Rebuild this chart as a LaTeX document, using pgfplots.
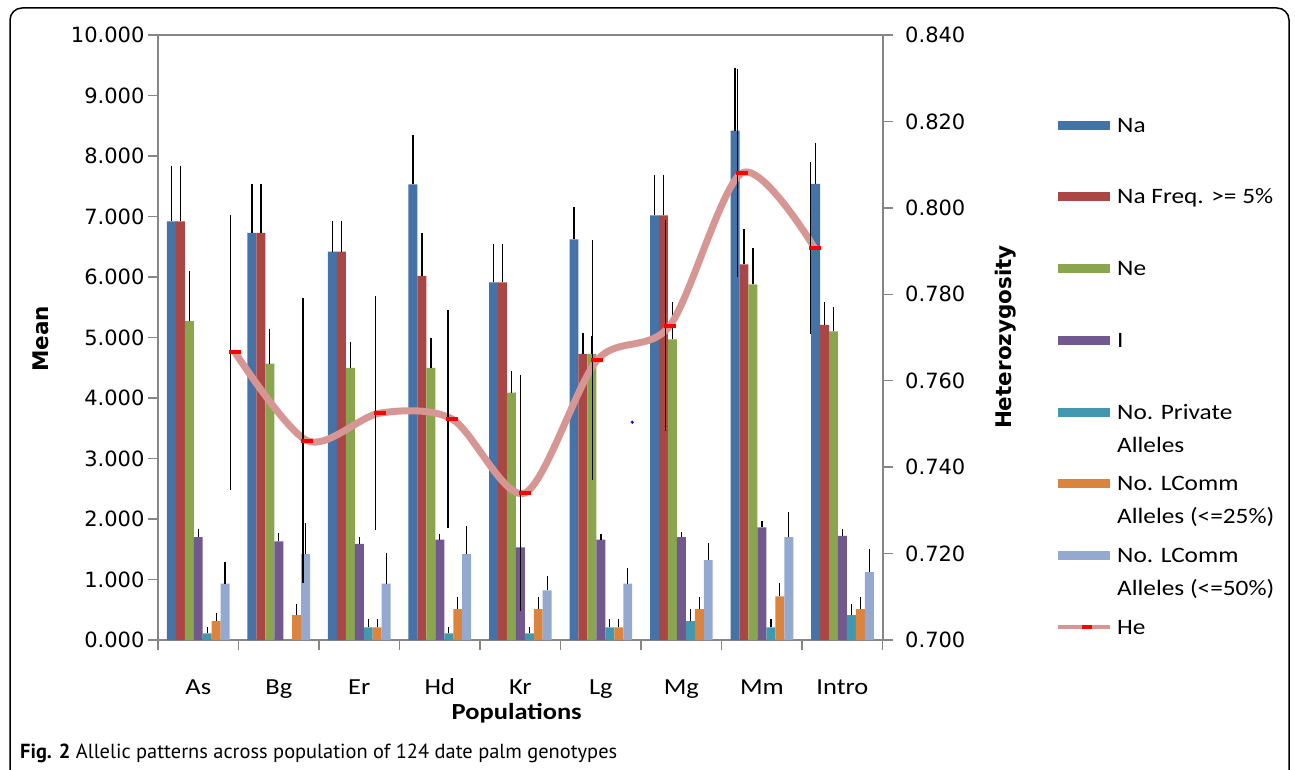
\documentclass[border=0pt]{standalone}
\usepackage{pgfplots}
\pgfplotsset{compat=1.18}
\usepackage{pgfplotstable}
\usepackage{fontspec}
\usepackage{graphicx}
\setmainfont{Carlito}
\newfontfamily\vfont{DejaVu Sans}
\newfontfamily\capfont{PT Sans}
\newcommand\sx[1]{\scalebox{1.15}[1]{#1}}
\definecolor{naC}{RGB}{69,114,167}
\definecolor{nafC}{RGB}{170,70,67}
\definecolor{neC}{RGB}{137,165,78}
\definecolor{iC}{RGB}{113,88,143}
\definecolor{prC}{RGB}{65,152,175}
\definecolor{lqC}{RGB}{219,132,61}
\definecolor{lhC}{RGB}{147,169,207}
\definecolor{heC}{RGB}{214,150,148}
\definecolor{axisC}{RGB}{134,134,134}

\pgfplotstableread{
x Na Nae Naf Nafe Ne Nee I Ie Pr Pre Lq Lqe Lh Lhe
0 6.92 0.92 6.92 0.92 5.27 0.83 1.70 0.13 0.11 0.10 0.31 0.14 0.93 0.36
1 6.73 0.80 6.73 0.80 4.57 0.57 1.63 0.14 0.00 0.00 0.41 0.18 1.42 0.51
2 6.42 0.51 6.42 0.51 4.50 0.43 1.59 0.11 0.21 0.13 0.21 0.13 0.93 0.50
3 7.53 0.82 6.02 0.70 4.50 0.50 1.66 0.10 0.11 0.10 0.51 0.20 1.42 0.47
4 5.91 0.63 5.91 0.63 4.09 0.35 1.53 0.10 0.11 0.10 0.51 0.20 0.82 0.24
5 6.62 0.53 4.73 0.34 4.73 0.30 1.66 0.10 0.21 0.13 0.21 0.13 0.93 0.26
6 7.02 0.67 7.02 0.67 4.97 0.62 1.70 0.09 0.31 0.20 0.51 0.20 1.32 0.28
7 8.42 1.04 6.21 0.58 5.88 0.60 1.86 0.10 0.21 0.13 0.72 0.23 1.70 0.41
8 7.54 0.67 5.21 0.37 5.10 0.41 1.72 0.11 0.41 0.18 0.51 0.20 1.12 0.38
}\bars

\pgfplotstableread{
x He Hee
0.4 0.7666 0.0318
1.3 0.7461 0.0330
2.2 0.7525 0.0270
3.1 0.7511 0.0252
4.0 0.7340 0.0274
4.9 0.7648 0.0278
5.8 0.7727 0.0244
6.7 0.8081 0.0240
7.6 0.7907 0.0200
}\he

\pgfplotsset{
  barerr/.style={error bars/y dir=plus, error bars/y explicit, error bars/error mark=none,
    error bars/error bar style={draw=black, line width=1.3pt}},
  mybar/.style={ybar, bar width=0.1112, bar shift=0pt, fill=#1, draw=none,
    legend image code/.code={\fill[#1] (0pt,2.5pt) rectangle (52pt,11.5pt);}, barerr},
}

\begin{document}
\begin{tikzpicture}
\useasboundingbox (0pt,0pt) rectangle (1295pt,769pt);
\clip (0pt,0pt) rectangle (1295pt,769pt);
\draw[black, line width=1.5pt, rounded corners=12pt] (10pt,-40pt) rectangle (1289pt,761pt);
\node[anchor=base west, inner sep=0pt, font=\capfont\fontsize{20.4}{24}\selectfont] at (20pt,11pt)
  {\textbf{Fig. 2} Allelic patterns across population of 124 date palm genotypes};

\begin{axis}[
  at={(158pt,129pt)}, anchor=south west, scale only axis,
  width=724.7pt, height=605pt,
  xmin=-0.5, xmax=8.5, ymin=0, ymax=10,
  axis line style={draw=axisC, line width=2pt},
  tick style={draw=axisC, line width=1.5pt},
  tick align=outside, major tick length=10pt,
  xtick pos=left, ytick pos=left,
  ytick={0,1,2,3,4,5,6,7,8,9,10},
  yticklabels={0.000,1.000,2.000,3.000,4.000,5.000,6.000,7.000,8.000,9.000,10.000},
  yticklabel style={font=\vfont\fontsize{21}{25}\selectfont},
  xtick={-0.5,0.5,1.5,2.5,3.5,4.5,5.5,6.5,7.5,8.5},
  xticklabels={},
  extra x ticks={0,1,2,3,4,5,6,7,8},
  extra x tick labels={\sx{As},\sx{Bg},\sx{Er},\sx{Hd},\sx{Kr},\sx{Lg},\sx{Mg},\sx{Mm},\sx{Intro}},
  extra x tick style={major tick length=0pt},
  xticklabel style={font=\fontsize{23}{26}\selectfont, anchor=base, yshift=-54pt},
  xlabel={\sx{Populations}},
  xlabel style={at={(axis description cs:0.495,-0.1207)}, anchor=center, font=\bfseries\fontsize{23}{26}\selectfont},
  ylabel={Mean},
  ylabel style={at={(axis description cs:-0.1614,0.4975)}, anchor=center, font=\vfont\bfseries\fontsize{21.5}{24}\selectfont},
  legend style={at={(1,1)}, anchor=north west, xshift=173.3pt, yshift=-82pt,
    draw=none, fill=none, inner sep=0pt, row sep=0pt, column sep=5pt,
    cells={anchor=base west},
    nodes={inner sep=0pt, text height=15pt, text depth=56.7pt, font=\fontsize{22}{33}\selectfont}},
]
\addplot[mybar=naC] table[x expr=\thisrow{x}-0.3336, y=Na, y error=Nae] {\bars};
\addlegendentry{\sx{Na}}
\addplot[mybar=nafC] table[x expr=\thisrow{x}-0.2224, y=Naf, y error=Nafe] {\bars};
\addlegendentry{\sx{Na Freq. >= 5\%}}
\addplot[mybar=neC] table[x expr=\thisrow{x}-0.1112, y=Ne, y error=Nee] {\bars};
\addlegendentry{\sx{Ne}}
\addplot[mybar=iC] table[x expr=\thisrow{x}, y=I, y error=Ie] {\bars};
\addlegendentry{\sx{I}}
\addplot[mybar=prC] table[x expr=\thisrow{x}+0.1112, y=Pr, y error=Pre] {\bars};
\addlegendentry{\sx{\parbox[t]{150pt}{\raggedright No. Private\\Alleles}}}
\addplot[mybar=lqC] table[x expr=\thisrow{x}+0.2224, y=Lq, y error=Lqe] {\bars};
\addlegendentry{\sx{\parbox[t]{150pt}{\raggedright No. LComm\\Alleles (<=25\%)}}}
\addplot[mybar=lhC] table[x expr=\thisrow{x}+0.3336, y=Lh, y error=Lhe] {\bars};
\addlegendentry{\sx{\parbox[t]{150pt}{\raggedright No. LComm\\Alleles (<=50\%)}}}
\addlegendimage{legend image code/.code={
  \draw[heC, line width=4pt] (0pt,7pt) -- (52pt,7pt);
  \fill[red] (24pt,5.5pt) rectangle (33pt,8.5pt);}}
\addlegendentry{\sx{He}}
\addplot[only marks, mark=*, mark size=1.3pt, blue, forget plot] coordinates {(5.39,3.60)};
\end{axis}

\begin{axis}[
  at={(158pt,129pt)}, anchor=south west, scale only axis,
  width=724.7pt, height=605pt,
  xmin=-0.5, xmax=8.5, ymin=0.7, ymax=0.84,
  axis x line=none, axis y line*=right,
  y axis line style={draw=none},
  tick style={draw=axisC, line width=1.5pt},
  tick align=outside, major tick length=10pt,
  ytick={0.70,0.72,0.74,0.76,0.78,0.80,0.82,0.84},
  yticklabels={0.700,0.720,0.740,0.760,0.780,0.800,0.820,0.840},
  yticklabel style={font=\vfont\fontsize{21}{25}\selectfont, xshift=9pt},
  ylabel={Heterozygosity},
  ylabel style={at={(axis description cs:1.1701,0.5008)}, anchor=center, font=\vfont\bfseries\fontsize{21.5}{24}\selectfont},
]
\addplot[heC, line width=7pt, smooth, tension=0.5, mark=-, mark size=6pt,
  mark options={red, line width=3.5pt, solid}]
  table[x expr=\thisrow{x}+0.055, y=He] {\he};
\addplot[draw=none, error bars/.cd, y dir=both, y explicit, error mark=none,
  error bar style={draw=black, line width=1.3pt}]
  table[x=x, y=He, y error=Hee] {\he};
\end{axis}
\end{tikzpicture}
\end{document}
